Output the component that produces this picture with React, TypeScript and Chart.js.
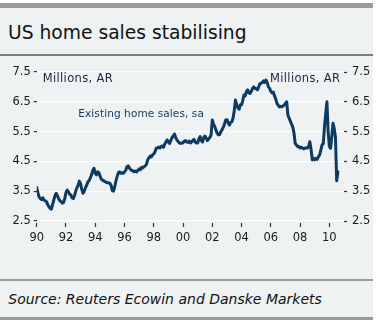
import { useEffect, useRef } from "react";
import { Chart, registerables } from "chart.js";

Chart.register(...registerables);

// Existing home sales, sa (millions, annual rate), monthly from Jan 1990
const startYear = 1990;
const sales1990to1994 = [
  3.62, 3.45, 3.30, 3.25, 3.22, 3.28, 3.20, 3.18, 3.15, 3.05, 2.98, 2.92,
  2.90, 3.05, 3.20, 3.35, 3.43, 3.35, 3.25, 3.18, 3.15, 3.10, 3.12, 3.25,
  3.45, 3.54, 3.48, 3.40, 3.37, 3.28, 3.25, 3.35, 3.50, 3.62, 3.70, 3.84,
  3.75, 3.55, 3.43, 3.50, 3.62, 3.70, 3.82, 3.85, 3.95, 4.05, 4.20, 4.27,
  4.10, 4.05, 4.15, 4.12, 4.00, 3.90, 3.87, 3.85, 3.82, 3.80, 3.78, 3.78,
];
const sales1995to1999 = [
  3.76, 3.70, 3.52, 3.50, 3.65, 3.85, 4.00, 4.12, 4.15, 4.10, 4.12, 4.10,
  4.15, 4.20, 4.32, 4.35, 4.28, 4.22, 4.20, 4.18, 4.15, 4.18, 4.15, 4.20,
  4.25, 4.22, 4.30, 4.28, 4.32, 4.35, 4.40, 4.55, 4.62, 4.68, 4.65, 4.72,
  4.75, 4.82, 4.94, 4.95, 4.98, 4.95, 5.00, 5.02, 4.98, 5.08, 5.15, 5.22,
  5.15, 5.10, 5.20, 5.30, 5.35, 5.42, 5.30, 5.22, 5.17, 5.12, 5.10, 5.12,
];
const sales2000to2004 = [
  5.12, 5.18, 5.20, 5.15, 5.14, 5.18, 5.12, 5.15, 5.20, 5.24, 5.15, 5.12,
  5.12, 5.25, 5.33, 5.20, 5.15, 5.30, 5.35, 5.28, 5.20, 5.25, 5.30, 5.39,
  5.89, 5.75, 5.67, 5.55, 5.45, 5.39, 5.40, 5.50, 5.56, 5.65, 5.75, 5.89,
  5.90, 5.80, 5.72, 5.80, 5.83, 5.95, 6.20, 6.56, 6.40, 6.30, 6.25, 6.40,
  6.40, 6.55, 6.73, 6.70, 6.85, 6.90, 6.80, 6.78, 6.85, 6.95, 7.00, 6.95,
];
const sales2005to2010 = [
  6.95, 6.90, 7.00, 7.10, 7.12, 7.15, 7.20, 7.15, 7.23, 7.15, 7.00, 6.95,
  6.85, 6.80, 6.83, 6.70, 6.60, 6.45, 6.39, 6.33, 6.35, 6.33, 6.36, 6.39,
  6.45, 6.50, 6.05, 5.95, 5.85, 5.75, 5.65, 5.45, 5.10, 5.05, 5.00, 5.00,
  4.95, 4.98, 4.95, 4.92, 4.95, 4.95, 4.95, 5.00, 5.16, 4.90, 4.55, 4.60,
  4.55, 4.60, 4.57, 4.65, 4.72, 4.88, 5.05, 5.10, 5.66, 6.10, 6.50, 5.50,
  5.00, 4.94, 5.35, 5.78, 5.60, 5.30, 3.85, 4.15,
];

const yTicks = [2.5, 3.5, 4.5, 5.5, 6.5, 7.5];
const xTicks = [1990, 1992, 1994, 1996, 1998, 2000, 2002, 2004, 2006, 2008, 2010];

const title = "US home sales stabilising";
const seriesLabel = "Existing home sales, sa";
const unitLabel = "Millions, AR";
const source = "Source: Reuters Ecowin and Danske Markets";

const FONT = "'DejaVu Sans', sans-serif";

export default function App() {
  const ref = useRef<HTMLCanvasElement | null>(null);

  useEffect(() => {
    document.body.style.margin = "0";
    const all = [...sales1990to1994, ...sales1995to1999, ...sales2000to2004, ...sales2005to2010];
    const points = all.map((v, i) => ({ x: startYear + i / 12, y: v }));
    const tickFont = { family: FONT, size: 11.5 };
    const tickColor = "#1a1a1a";
    const markColor = "#333";
    const yFixed = (s: any) => {
      s.ticks = yTicks.map((v) => ({ value: v }));
    };
    const chart = new Chart(ref.current as HTMLCanvasElement, {
      type: "line",
      data: {
        datasets: [
          {
            label: seriesLabel,
            data: points,
            borderColor: "#0d3a5e",
            borderWidth: 3,
            borderJoinStyle: "round",
            borderCapStyle: "round",
            pointRadius: 0,
            tension: 0,
            yAxisID: "y",
          },
        ],
      },
      options: {
        animation: false,
        responsive: false,
        maintainAspectRatio: false,
        layout: { padding: { top: 16, left: 0, right: 0, bottom: 0 } },
        plugins: { legend: { display: false }, tooltip: { enabled: false } },
        scales: {
          x: {
            type: "linear",
            min: 1990,
            max: 2011,
            afterBuildTicks: (s: any) => {
              s.ticks = xTicks.map((v) => ({ value: v }));
            },
            afterFit: (s: any) => {
              s.height = 55;
            },
            ticks: {
              callback: (v: any) => String(v).slice(2),
              font: tickFont,
              color: tickColor,
              padding: 4,
              maxRotation: 0,
              autoSkip: false,
            },
            grid: { drawOnChartArea: false, drawTicks: true, tickLength: 4, tickColor: markColor, tickWidth: 1.2 },
            border: { display: false },
          },
          y: {
            position: "left",
            min: 2.433,
            max: 7.5,
            afterBuildTicks: yFixed,
            afterFit: (s: any) => {
              s.width = 36.7;
            },
            ticks: {
              callback: (v: any) => Number(v).toFixed(1),
              font: tickFont,
              color: tickColor,
              padding: 3,
            },
            grid: { color: "#ffffff", lineWidth: 1.2, tickLength: 3, tickColor: markColor, tickWidth: 1.2 },
            border: { display: false },
          },
          y2: {
            position: "right",
            min: 2.433,
            max: 7.5,
            afterBuildTicks: yFixed,
            afterFit: (s: any) => {
              s.width = 29;
            },
            ticks: {
              callback: (v: any) => Number(v).toFixed(1),
              font: tickFont,
              color: tickColor,
              padding: 5,
            },
            grid: { drawOnChartArea: false, tickLength: 3, tickColor: markColor, tickWidth: 1.2 },
            border: { display: false },
          },
        },
      },
    });
    return () => chart.destroy();
  }, []);

  const abs = (o: any) => ({ position: "absolute" as const, margin: 0, whiteSpace: "nowrap" as const, ...o });

  return (
    <div style={{ position: "relative", width: 376, height: 324, background: "#ffffff", overflow: "hidden" }}>
      <div style={abs({ left: 0, top: 3, width: 373, height: 317, background: "#eef2f3" })} />
      <div style={abs({ left: 0, top: 3, width: 373, height: 5, background: "#999999" })} />
      <div
        style={abs({
          left: 8,
          top: 23.5,
          fontFamily: FONT,
          fontSize: 18.7,
          lineHeight: "18.7px",
          color: "#111111",
        })}
      >
        {title}
      </div>
      <div style={abs({ left: 0, top: 54.3, width: 373, height: 1.5, background: "#7d7d7d" })} />
      <canvas ref={ref} width={373} height={222} style={abs({ left: 0, top: 56, width: 373, height: 222 })} />
      <div
        style={abs({
          left: 42.7,
          top: 72.6,
          fontFamily: FONT,
          fontSize: 11.5,
          lineHeight: "11.5px",
          letterSpacing: 0.35,
          color: "#1d2540",
        })}
      >
        {unitLabel}
      </div>
      <div
        style={abs({
          left: 270,
          top: 73.3,
          fontFamily: FONT,
          fontSize: 11.5,
          lineHeight: "11.5px",
          letterSpacing: 0.35,
          color: "#1d2540",
        })}
      >
        {unitLabel}
      </div>
      <div
        style={abs({
          left: 78.3,
          top: 107.8,
          fontFamily: FONT,
          fontSize: 10.5,
          lineHeight: "10.5px",
          letterSpacing: 0.1,
          color: "#17375e",
        })}
      >
        {seriesLabel}
      </div>
      <div style={abs({ left: 0, top: 279, width: 373, height: 2, background: "#9a9a9a" })} />
      <div
        style={abs({
          left: 8.3,
          top: 292.2,
          fontFamily: FONT,
          fontStyle: "italic",
          fontSize: 14,
          lineHeight: "14px",
          color: "#111111",
        })}
      >
        {source}
      </div>
      <div style={abs({ left: 0, top: 316.7, width: 373, height: 3.3, background: "#999999" })} />
    </div>
  );
}
